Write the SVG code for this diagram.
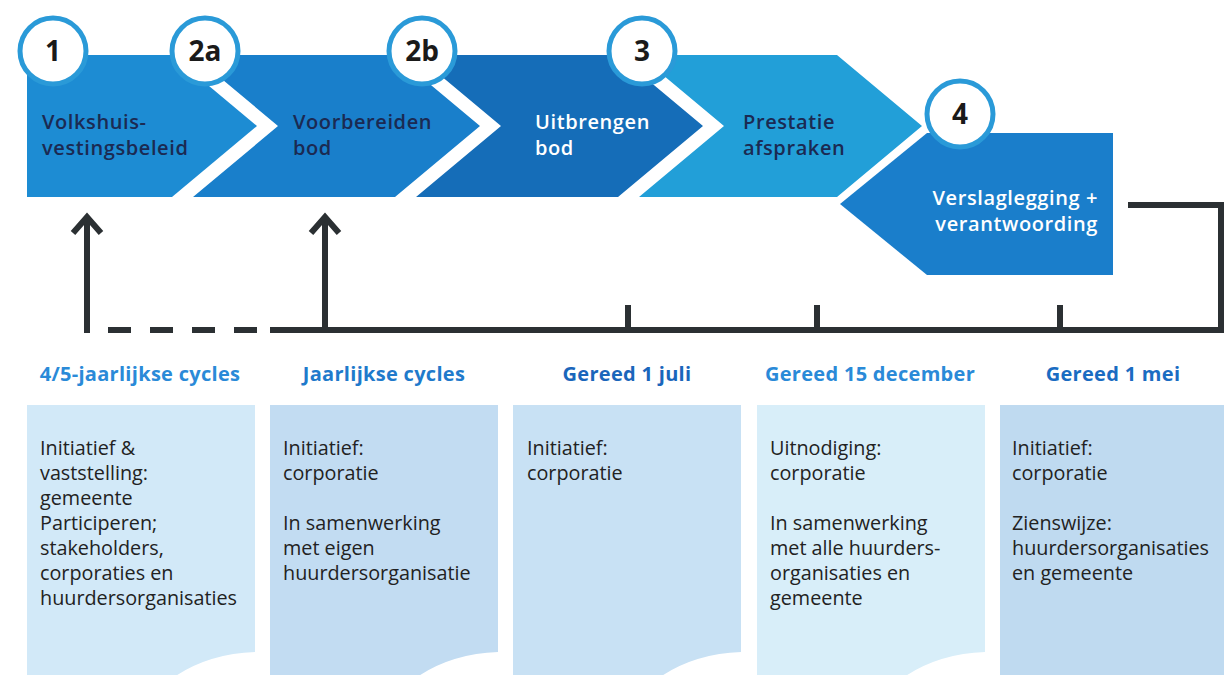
<svg xmlns="http://www.w3.org/2000/svg" width="1224" height="675" viewBox="0 0 1224 675">
  <style>
    .step { font-family: "Open Sans", "Liberation Sans", sans-serif; font-size: 20px; font-weight: 600; letter-spacing: 0.6px; }
    .dark { fill: #1b2a52; }
    .light { fill: #ffffff; }
    .badge circle { fill: #ffffff; stroke: #2a9ad8; stroke-width: 5; }
    .badge text { font-family: "Open Sans", "Liberation Sans", sans-serif; font-size: 28px; font-weight: 700; fill: #1a1a1a; text-anchor: middle; }
    .label { font-family: "Open Sans", "Liberation Sans", sans-serif; font-size: 20px; font-weight: 700; text-anchor: middle; letter-spacing: 0.3px; }
    .body { font-family: "Open Sans", "Liberation Sans", sans-serif; font-size: 19.8px; fill: #222222; }
    .line { fill: none; stroke: #2b3033; stroke-width: 6; }
  </style>

  <!-- process steps -->
  <g id="step-1">
    <polygon points="27,55 172,55 257,126 172,197 27,197" fill="#1d8cd3"/>
    <text class="step dark" x="42" y="129">Volkshuis-</text>
    <text class="step dark" x="42" y="155">vestingsbeleid</text>
  </g>
  <g id="step-2a">
    <polygon points="193,55 395,55 480,126 395,197 193,197 278,126" fill="#197fcb"/>
    <text class="step dark" x="293" y="129">Voorbereiden</text>
    <text class="step dark" x="293" y="155">bod</text>
  </g>
  <g id="step-2b">
    <polygon points="416,55 618,55 703,126 618,197 416,197 501,126" fill="#156db8"/>
    <text class="step light" x="535" y="129">Uitbrengen</text>
    <text class="step light" x="535" y="155">bod</text>
  </g>
  <g id="step-3">
    <polygon points="639,55 837,55 922,126 837,197 639,197 724,126" fill="#229fd8"/>
    <text class="step dark" x="743" y="129">Prestatie</text>
    <text class="step dark" x="743" y="155">afspraken</text>
  </g>
  <g id="step-4">
    <polygon points="927,133 1113,133 1113,275 927,275 840,204" fill="#1a7ecb"/>
    <text class="step light" x="1098" y="205" text-anchor="end">Verslaglegging +</text>
    <text class="step light" x="1098" y="231" text-anchor="end">verantwoording</text>
  </g>

  <!-- numbered badges -->
  <g id="badge-1" class="badge"><circle cx="53" cy="51" r="33"/><text x="53" y="61">1</text></g>
  <g id="badge-2a" class="badge"><circle cx="205" cy="51" r="33"/><text x="205" y="61">2a</text></g>
  <g id="badge-2b" class="badge"><circle cx="422" cy="51" r="33"/><text x="422" y="61">2b</text></g>
  <g id="badge-3" class="badge"><circle cx="642" cy="51" r="33"/><text x="642" y="61">3</text></g>
  <g id="badge-4" class="badge"><circle cx="960" cy="114" r="33"/><text x="960" y="124">4</text></g>

  <!-- timeline connectors -->
  <g id="connectors">
    <line class="line" x1="108" y1="330" x2="258" y2="330" stroke-dasharray="23 19"/>
    <line class="line" x1="270" y1="330" x2="1224" y2="330"/>
    <polyline class="line" points="1128,205 1221,205 1221,333"/>
    <line class="line" x1="87" y1="333" x2="87" y2="216"/>
    <polyline class="line" points="73,233 87,217 101,233" stroke-linejoin="miter"/>
    <line class="line" x1="325" y1="333" x2="325" y2="216"/>
    <polyline class="line" points="311,233 325,217 339,233" stroke-linejoin="miter"/>
    <line class="line" x1="628" y1="305" x2="628" y2="330"/>
    <line class="line" x1="817" y1="305" x2="817" y2="330"/>
    <line class="line" x1="1060" y1="305" x2="1060" y2="330"/>
  </g>

  <!-- column headings -->
  <g id="headings">
    <text class="label" x="140" y="381" fill="#2a8ad8">4/5-jaarlijkse cycles</text>
    <text class="label" x="384" y="381" fill="#1f7acb">Jaarlijkse cycles</text>
    <text class="label" x="627" y="381" fill="#1a66bb">Gereed 1 juli</text>
    <text class="label" x="870" y="381" fill="#2a8ad8">Gereed 15 december</text>
    <text class="label" x="1113" y="381" fill="#1a6cc2">Gereed 1 mei</text>
  </g>

  <!-- responsibility cards -->
  <g id="card-1">
    <path d="M27,405 H255 V652 Q205,654 170,680 H27 Z" fill="#d2e9f8"/>
    <text class="body" x="40" y="455">Initiatief &amp;</text>
    <text class="body" x="40" y="480">vaststelling:</text>
    <text class="body" x="40" y="505">gemeente</text>
    <text class="body" x="40" y="530">Participeren;</text>
    <text class="body" x="40" y="555">stakeholders,</text>
    <text class="body" x="40" y="580">corporaties en</text>
    <text class="body" x="40" y="605">huurdersorganisaties</text>
  </g>
  <g id="card-2">
    <path d="M270,405 H498 V652 Q448,654 413,680 H270 Z" fill="#c2dcf2"/>
    <text class="body" x="283" y="455">Initiatief:</text>
    <text class="body" x="283" y="480">corporatie</text>
    <text class="body" x="283" y="530">In samenwerking</text>
    <text class="body" x="283" y="555">met eigen</text>
    <text class="body" x="283" y="580">huurdersorganisatie</text>
  </g>
  <g id="card-3">
    <path d="M513,405 H741 V652 Q691,654 656,680 H513 Z" fill="#c8e1f4"/>
    <text class="body" x="527" y="455">Initiatief:</text>
    <text class="body" x="527" y="480">corporatie</text>
  </g>
  <g id="card-4">
    <path d="M757,405 H985 V652 Q935,654 900,680 H757 Z" fill="#d8eef9"/>
    <text class="body" x="770" y="455">Uitnodiging:</text>
    <text class="body" x="770" y="480">corporatie</text>
    <text class="body" x="770" y="530">In samenwerking</text>
    <text class="body" x="770" y="555">met alle huurders-</text>
    <text class="body" x="770" y="580">organisaties en</text>
    <text class="body" x="770" y="605">gemeente</text>
  </g>
  <g id="card-5">
    <path d="M1000,405 H1224 V680 H1000 Z" fill="#bfdaf0"/>
    <text class="body" x="1012" y="455">Initiatief:</text>
    <text class="body" x="1012" y="480">corporatie</text>
    <text class="body" x="1012" y="530">Zienswijze:</text>
    <text class="body" x="1012" y="555">huurdersorganisaties</text>
    <text class="body" x="1012" y="580">en gemeente</text>
  </g>
</svg>
